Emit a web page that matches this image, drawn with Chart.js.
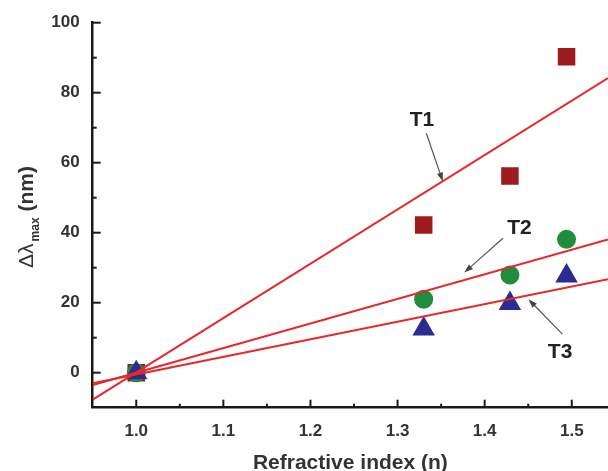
<!DOCTYPE html>
<html><head><meta charset="utf-8">
<script src="https://cdn.jsdelivr.net/npm/chart.js@4/dist/chart.umd.min.js"></script>
<style>html,body{margin:0;padding:0;background:#fff;} #wrap{width:608px;height:471px;position:relative;}</style>
</head><body><div id="wrap"><canvas id="c" width="608" height="471"></canvas></div>
<script>
// ---- data ----
const xTickValues = [1.0, 1.1, 1.2, 1.3, 1.4, 1.5];
const yTickValues = [0, 20, 40, 60, 80, 100];
const refractiveIndex = [1.0, 1.33, 1.429, 1.494];
const t1Values = [0, 42.2, 56.2, 90.3];
const t2Values = [0, 21.0, 27.9, 38.1];
const t3Values = [0, 12.5, 19.8, 27.6];
const fitX = [0.95, 1.5416];
const t1Fit = [-7.7, 84.2];
const t2Fit = [-3.5, 38.1];
const t3Fit = [-3.0, 26.7];
const seriesNames = ['T1', 'T2', 'T3'];
const xTitle = 'Refractive index (n)';

// annotation label + arrow anchors (data units)
const notes = [
  {text: seriesNames[0], tx: 1.328, ty: 72.2, from: [1.333, 68.4], to: [1.352, 54.6]},
  {text: seriesNames[1], tx: 1.440, ty: 41.3, from: [1.421, 38.4], to: [1.3765, 28.6]},
  {text: seriesNames[2], tx: 1.4866, ty: 5.8, from: [1.4892, 11.0], to: [1.4502, 21.0]}
];

const FONT = '"Liberation Sans", Arial, sans-serif';
const pts = (xs, ys) => xs.map((v, i) => ({x: v, y: ys[i]}));

const decor = {
  id: 'decor',
  afterDraw(chart) {
    const {ctx, chartArea: a, scales: {x, y}} = chart;
    ctx.save();
    ctx.strokeStyle = '#1a1a1a';
    ctx.lineWidth = 2;
    // inward ticks, y
    yTickValues.forEach((v) => {
      let py = y.getPixelForValue(v);
      ctx.beginPath(); ctx.moveTo(a.left, py); ctx.lineTo(a.left + 8, py); ctx.stroke();
      const mv = v + (yTickValues[1] - yTickValues[0]) / 2;
      if (mv < y.max) {
        py = y.getPixelForValue(mv);
        ctx.beginPath(); ctx.moveTo(a.left, py); ctx.lineTo(a.left + 4, py); ctx.stroke();
      }
    });
    // inward ticks, x
    xTickValues.forEach((v) => {
      let px = x.getPixelForValue(v);
      ctx.beginPath(); ctx.moveTo(px, a.bottom); ctx.lineTo(px, a.bottom - 8); ctx.stroke();
      const mv = v + (xTickValues[1] - xTickValues[0]) / 2;
      if (mv < x.max) {
        px = x.getPixelForValue(mv);
        ctx.beginPath(); ctx.moveTo(px, a.bottom); ctx.lineTo(px, a.bottom - 4); ctx.stroke();
      }
    });
    // x title
    ctx.fillStyle = '#333';
    ctx.font = 'bold 21px ' + FONT;
    ctx.textAlign = 'center';
    ctx.textBaseline = 'alphabetic';
    ctx.fillText(xTitle, (a.left + a.right) / 2, 469);
    // y title (rotated) : Δλ_max (nm)
    ctx.save();
    ctx.translate(33, 217);
    ctx.rotate(-Math.PI / 2);
    ctx.textAlign = 'left';
    const p1 = 'Δλ', p2 = 'max', p3 = ' (nm)';
    ctx.font = '21px ' + FONT; const w1 = ctx.measureText(p1).width;
    ctx.font = 'bold 12px ' + FONT; const w2 = ctx.measureText(p2).width;
    ctx.font = 'bold 21px ' + FONT; const w3 = ctx.measureText(p3).width;
    let sx = -(w1 + 2 + w2 + w3) / 2;
    ctx.font = '21px ' + FONT; ctx.fillText(p1, sx, 0); sx += w1 + 2;
    ctx.font = 'bold 12px ' + FONT; ctx.fillText(p2, sx, 6); sx += w2;
    ctx.font = 'bold 21px ' + FONT; ctx.fillText(p3, sx, 0);
    ctx.restore();
    // annotations
    notes.forEach(n => {
      ctx.fillStyle = '#222';
      ctx.font = 'bold 21px ' + FONT;
      ctx.textAlign = 'center';
      ctx.textBaseline = 'middle';
      ctx.fillText(n.text, x.getPixelForValue(n.tx), y.getPixelForValue(n.ty));
      const x1 = x.getPixelForValue(n.from[0]), y1 = y.getPixelForValue(n.from[1]);
      const x2 = x.getPixelForValue(n.to[0]), y2 = y.getPixelForValue(n.to[1]);
      const ang = Math.atan2(y2 - y1, x2 - x1);
      ctx.strokeStyle = '#555'; ctx.fillStyle = '#444'; ctx.lineWidth = 1.2;
      ctx.beginPath(); ctx.moveTo(x1, y1);
      ctx.lineTo(x2 - 6 * Math.cos(ang), y2 - 6 * Math.sin(ang)); ctx.stroke();
      ctx.beginPath();
      ctx.moveTo(x2, y2);
      ctx.lineTo(x2 - 9 * Math.cos(ang) + 3 * Math.sin(ang), y2 - 9 * Math.sin(ang) - 3 * Math.cos(ang));
      ctx.lineTo(x2 - 9 * Math.cos(ang) - 3 * Math.sin(ang), y2 - 9 * Math.sin(ang) + 3 * Math.cos(ang));
      ctx.closePath(); ctx.fill();
    });
    ctx.restore();
  }
};

const RED = '#e8272b';
const lineDs = (data) => ({type: 'line', data, borderColor: RED, borderWidth: 2, pointRadius: 0, showLine: true, fill: false, tension: 0});

new Chart(document.getElementById('c'), {
  type: 'scatter',
  data: {
    datasets: [
      lineDs(pts(fitX, t1Fit)),
      lineDs(pts(fitX, t2Fit)),
      lineDs(pts(fitX, t3Fit)),
      {label: seriesNames[2], data: pts(refractiveIndex, t3Values), pointStyle: 'triangle', pointRadius: 13, backgroundColor: '#2b2b92', borderColor: '#2b2b92', borderWidth: 0},
      {label: seriesNames[1], data: pts(refractiveIndex, t2Values), pointStyle: 'circle', pointRadius: 9.5, backgroundColor: '#1f8c3e', borderColor: '#1f8c3e', borderWidth: 0},
      {label: seriesNames[0], data: pts(refractiveIndex, t1Values), pointStyle: 'rect', pointRadius: 12.4, backgroundColor: '#9e1c1e', borderColor: '#9e1c1e', borderWidth: 0}
    ]
  },
  options: {
    responsive: false,
    animation: false,
    events: [],
    layout: {autoPadding: false, padding: {top: 22.7, left: 0, right: 0, bottom: 0}},
    plugins: {legend: {display: false}, tooltip: {enabled: false}},
    scales: {
      x: {
        type: 'linear', min: 0.95, max: 1.5416,
        afterBuildTicks: s => { s.ticks = xTickValues.map(v => ({value: v})); },
        afterFit: s => { s.height = 63.3; s.paddingLeft = 0; s.paddingRight = 0; s.paddingTop = 0; s.paddingBottom = 0; },
        ticks: {callback: v => Number(v).toFixed(1), font: {family: FONT, size: 17, weight: 'bold'}, color: '#333', padding: 13, maxRotation: 0, autoSkip: false},
        grid: {display: false, drawTicks: false},
        border: {display: true, color: '#1a1a1a', width: 2.5}
      },
      y: {
        type: 'linear', min: -10, max: 100,
        afterBuildTicks: s => { s.ticks = yTickValues.map(v => ({value: v})); },
        afterFit: s => { s.width = 92.7; s.paddingLeft = 0; s.paddingRight = 0; s.paddingTop = 0; s.paddingBottom = 0; },
        ticks: {callback: v => String(v), font: {family: FONT, size: 17, weight: 'bold'}, color: '#333', padding: 13, autoSkip: false},
        grid: {display: false, drawTicks: false},
        border: {display: true, color: '#1a1a1a', width: 2.5}
      }
    }
  },
  plugins: [decor]
});
</script>
</body></html>
